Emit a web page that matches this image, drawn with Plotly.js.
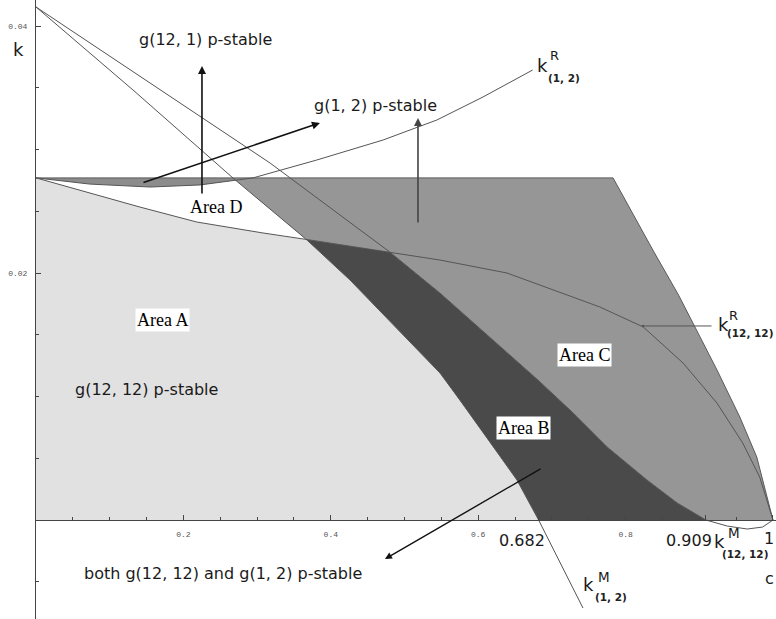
<!DOCTYPE html>
<html><head><meta charset="utf-8">
<script src="https://cdn.plot.ly/plotly-3.0.1.min.js"></script>
<style>html,body{margin:0;padding:0;background:#fff}#chart{width:776px;height:619px}</style>
</head><body><div id="chart"></div>
<script>
// ---- data (c on x, k on y) ----
const kCap = 0.0277; // horizontal upper bound of k
// k^R(1,2)
const kR12_c = [0, 0.073, 0.155, 0.2225, 0.2945, 0.381, 0.471, 0.544, 0.6065, 0.674];
const kR12_k = [0.0277, 0.0272, 0.02696, 0.02713, 0.0277, 0.02915, 0.03077, 0.03239, 0.03425, 0.03644];
// k^M(1,2)
const kM12_c = [0, 0.1316, 0.2673, 0.3677, 0.4261, 0.5482, 0.5753, 0.6526, 0.682, 0.7422];
const kM12_k = [0.04154, 0.03482, 0.02769, 0.02267, 0.01943, 0.0119, 0.00972, 0.00324, 0, -0.00713];
// k^R(12,12)
const kR1212_c = [0, 0.141, 0.218, 0.308, 0.372, 0.480, 0.548, 0.639, 0.729, 0.765, 0.824, 0.878, 0.924, 0.959, 0.982, 1.0];
const kR1212_k = [0.0277, 0.02534, 0.02413, 0.02324, 0.02267, 0.0217, 0.02105, 0.0200, 0.01806, 0.01725, 0.01563, 0.01271, 0.00947, 0.00623, 0.00348, 0];
// k^M(12,12)
const kM1212_c = [0, 0.3175, 0.480, 0.548, 0.681, 0.729, 0.775, 0.829, 0.870, 0.909, 0.938, 0.965, 0.986, 1.0];
const kM1212_k = [0.04154, 0.02891, 0.0217, 0.01838, 0.01134, 0.00866, 0.00591, 0.00324, 0.00138, 0, -0.00049, -0.00073, -0.00057, 0];
// right boundary of the shaded region
const edge_c = [0.783, 0.837, 0.872, 0.901, 0.924, 0.955, 0.978, 1.0];
const edge_k = [0.0277, 0.02186, 0.0182, 0.01482, 0.01215, 0.00834, 0.0051, 0];
// tick labels
const xTickVals = [0.2, 0.4, 0.6, 0.8, 0.682, 0.909, 1];
const xTickText = ['0.2', '0.4', '0.6', '0.8', '', '', ''];
const yTickVals = [0.02, 0.04];
const yTickText = ['0.02', '0.04'];

// ---- helpers ----
function interp(xs, ys, x) {
  for (let i = 0; i < xs.length - 1; i++) {
    if (x >= xs[i] && x <= xs[i + 1]) {
      const t = (x - xs[i]) / (xs[i + 1] - xs[i]);
      return ys[i] + t * (ys[i + 1] - ys[i]);
    }
  }
  return x < xs[0] ? ys[0] : ys[ys.length - 1];
}
const fn = (xs, ys) => x => interp(xs, ys, x);
const zero = () => 0, cap = () => kCap;
function crossing(fa, fb, lo, hi) {
  const N = 4000; let px = lo, prev = fa(lo) - fb(lo);
  for (let i = 1; i <= N; i++) {
    const x = lo + (hi - lo) * i / N, d = fa(x) - fb(x);
    if (prev * d <= 0) return prev === d ? px : px + (x - px) * prev / (prev - d);
    prev = d; px = x;
  }
  return null;
}
function seg(xs, ys, a, b) {
  const lo = Math.min(a, b), hi = Math.max(a, b);
  const pts = [[lo, interp(xs, ys, lo)]];
  for (let i = 0; i < xs.length; i++) if (xs[i] > lo && xs[i] < hi) pts.push([xs[i], ys[i]]);
  pts.push([hi, interp(xs, ys, hi)]);
  return a <= b ? pts : pts.reverse();
}
const fR12 = fn(kR12_c, kR12_k), fM12 = fn(kM12_c, kM12_k);
const fR1212 = fn(kR1212_c, kR1212_k), fM1212 = fn(kM1212_c, kM1212_k);

const xA1 = crossing(fM12, cap, 0.1, 0.5);          // k^M(1,2) meets cap
const xA2 = crossing(fR1212, fM12, 0.3, 0.5);       // k^R(12,12) meets k^M(1,2)
const xB1 = crossing(fR1212, fM1212, 0.4, 0.6);     // k^R(12,12) meets k^M(12,12)
const xM12z = crossing(fM12, zero, 0.3, 0.74);      // 0.682
const xM1212z = crossing(fM1212, zero, 0.5, 0.95);  // 0.909
const xR12top = crossing(fR12, cap, 0.05, 0.6);

function poly(pts, color) {
  return { x: pts.map(p => p[0]), y: pts.map(p => p[1]), type: 'scatter', mode: 'lines',
    fill: 'toself', fillcolor: color, line: { width: 0 }, hoverinfo: 'skip', showlegend: false };
}
function line(xs, ys, color, w) {
  return { x: xs, y: ys, type: 'scatter', mode: 'lines', line: { color: color || '#555', width: w || 1 },
    hoverinfo: 'skip', showlegend: false };
}

const areaA = [[0, 0]].concat(seg(kR1212_c, kR1212_k, 0, xA2), seg(kM12_c, kM12_k, xA2, xM12z));
const strip = seg(kR12_c, kR12_k, 0, xR12top).concat([[0, kCap]]);
const edgePts = edge_c.map((c, i) => [c, edge_k[i]]);
const areaC = [[xA1, kCap]].concat(edgePts, [[xM1212z, 0]],
  seg(kM1212_c, kM1212_k, xM1212z, xB1), seg(kR1212_c, kR1212_k, xB1, xA2), seg(kM12_c, kM12_k, xA2, xA1));
const areaB = seg(kR1212_c, kR1212_k, xA2, xB1).concat(seg(kM1212_c, kM1212_k, xB1, xM1212z),
  [[xM12z, 0]], seg(kM12_c, kM12_k, xM12z, xA2));

const traces = [
  poly(areaA, '#e1e1e1'),
  poly(strip, '#8c8c8c'),
  poly(areaC, '#969696'),
  poly(areaB, '#4a4a4a'),
  line([0, edge_c[0]], [kCap, kCap], '#5a5a5a'),
  line(kR12_c, kR12_k),
  line(kM12_c, kM12_k),
  line(kR1212_c, kR1212_k),
  line(kM1212_c, kM1212_k),
  line(edge_c, edge_k, '#5a5a5a')
];

// ---- layout ----
const yBot = -0.008016, yTop = 0.042105;
const SANS = 'DejaVu Sans, Verdana, sans-serif';
const SERIF = 'Liberation Serif, Times New Roman, serif';
function txt(x, y, text, size, opts) {
  return Object.assign({ x: x, y: y, xref: 'x', yref: 'y', text: text, showarrow: false,
    font: { family: SANS, size: size, color: '#1a1a1a' }, xanchor: 'center', yanchor: 'middle' }, opts || {});
}
function areaLbl(x, y, text) {
  return txt(x, y, text, 18, { font: { family: SERIF, size: 18, color: '#000' }, bgcolor: '#fff', borderpad: 1 });
}
function arrow(hx, hy, tx, ty, color, w, head, size) {
  return { x: hx, y: hy, ax: tx, ay: ty, xref: 'x', yref: 'y', axref: 'x', ayref: 'y', text: '',
    showarrow: true, arrowhead: head == null ? 2 : head, arrowsize: size || 1, arrowwidth: w || 1.5,
    arrowcolor: color || '#111' };
}
const B = { family: 'DejaVu Sans', size: 10.5, color: '#222', weight: 'bold' };
const annotations = [
  txt(0.137, 0.03887, 'g(12, 1) p-stable', 16, { xanchor: 'left' }),
  txt(0.460, 0.0336, 'g(1, 2) p-stable', 16),
  txt(0.0502, 0.01053, 'g(12, 12) p-stable', 16, { xanchor: 'left' }),
  txt(0.0624, -0.00437, 'both g(12, 12) and g(1, 2) p-stable', 16, { xanchor: 'left' }),
  areaLbl(0.1723, 0.01619, 'Area A'),
  areaLbl(0.2442, 0.02534, 'Area D'),
  areaLbl(0.7436, 0.01336, 'Area C'),
  areaLbl(0.6608, 0.00741, 'Area B'),
  txt(0.6594, -0.00162, '0.682', 16),
  txt(0.8867, -0.00162, '0.909', 16),
  txt(1, -0.0015, '1', 16, { xref: 'paper', xanchor: 'right' }),
  txt(1, -0.0047, 'c', 16, { xref: 'paper', xanchor: 'right' }),
  txt(-0.023, 0.03806, 'k', 18, { xref: 'paper' }),
  // k^R(1,2)
  txt(0.6873, 0.03684, 'k', 18),
  txt(0.7036, 0.03765, 'R', 13),
  txt(0.7164, 0.03579, '(1, 2)', 10.5, { font: B }),
  // k^R(12,12)
  txt(0.9322, 0.01587, 'k', 18),
  txt(0.9464, 0.01655, 'R', 13),
  txt(0.9688, 0.01514, '(12, 12)', 10.5, { font: B }),
  // k^M(12,12)
  txt(0.9281, -0.0017, 'k', 18),
  txt(0.9471, -0.00105, 'M', 13.5),
  txt(0.9620, -0.00275, '(12, 12)', 10.5, { font: B }),
  // k^M(1,2)
  txt(0.7503, -0.00526, 'k', 18),
  txt(0.7707, -0.0046, 'M', 13.5),
  txt(0.7802, -0.00623, '(1, 2)', 10.5, { font: B }),
  // arrows
  arrow(0.2252, 0.03676, 0.2252, 0.02632, '#111', 1.6),
  arrow(0.3853, 0.03215, 0.1438, 0.02729, '#111', 1.6),
  arrow(0.5183, 0.03255, 0.5183, 0.02397, '#444', 1.6),
  arrow(0.4735, -0.00316, 0.6866, 0.00421, '#111', 1.4),
  arrow(0.8236, 0.01571, 0.9186, 0.01571, '#555', 1, 6, 0.6)
];

const layout = {
  width: 776, height: 619,
  margin: { l: 36, r: 0, t: 0, b: 0, pad: 0 },
  paper_bgcolor: '#fff', plot_bgcolor: 'rgba(0,0,0,0)',
  showlegend: false,
  font: { family: SANS },
  xaxis: {
    range: [0, 1.0041], anchor: 'free', position: (0 - yBot) / (yTop - yBot),
    showline: true, linecolor: '#444', linewidth: 1, showgrid: false, zeroline: false,
    tickmode: 'array', tickvals: xTickVals, ticktext: xTickText, ticks: 'inside', ticklen: 5,
    tickcolor: '#444', tickwidth: 1, ticklabelstandoff: 6,
    tickfont: { family: 'Liberation Mono, monospace', size: 8, color: '#555' },
    minor: { tickmode: 'linear', tick0: 0, dtick: 0.05, ticks: 'inside', ticklen: 3, tickcolor: '#444', showgrid: false },
    automargin: false, fixedrange: true
  },
  yaxis: {
    range: [yBot, yTop], showline: true, linecolor: '#444', linewidth: 1, showgrid: false, zeroline: false,
    tickmode: 'array', tickvals: yTickVals, ticktext: yTickText, ticks: 'inside', ticklen: 5,
    tickcolor: '#444', tickwidth: 1, ticklabelstandoff: 6,
    tickfont: { family: 'Liberation Mono, monospace', size: 8, color: '#555' },
    minor: { tickmode: 'linear', tick0: 0, dtick: 0.005, ticks: 'inside', ticklen: 3, tickcolor: '#444', showgrid: false },
    automargin: false, fixedrange: true
  },
  annotations: annotations
};
Plotly.newPlot('chart', traces, layout, { staticPlot: true, displayModeBar: false });
</script></body></html>
